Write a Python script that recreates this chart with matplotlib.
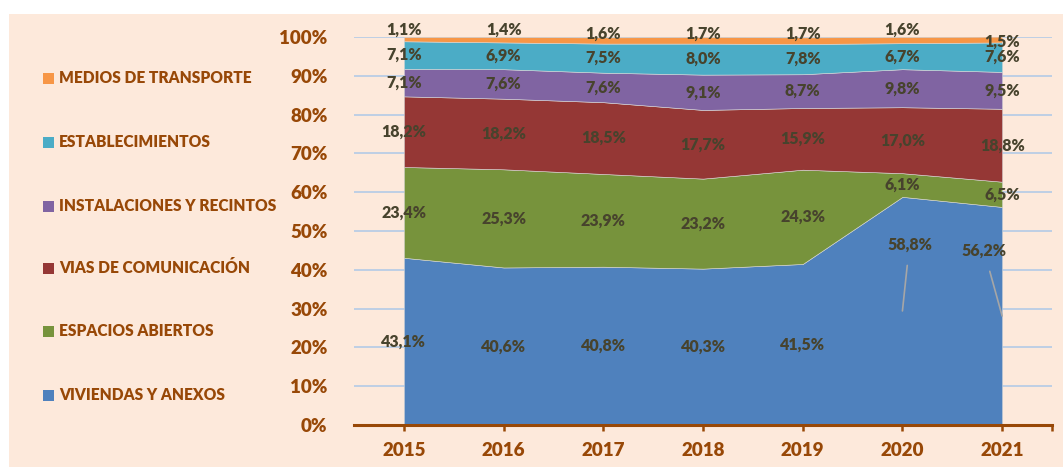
import matplotlib.pyplot as plt
import numpy as np
from matplotlib.patches import Rectangle

years = ["2015", "2016", "2017", "2018", "2019", "2020", "2021"]

viviendas = [43.1, 40.6, 40.8, 40.3, 41.5, 58.8, 56.2]
espacios = [23.4, 25.3, 23.9, 23.2, 24.3, 6.1, 6.5]
vias = [18.2, 18.2, 18.5, 17.7, 15.9, 17.0, 18.8]
instalaciones = [7.1, 7.6, 7.6, 9.1, 8.7, 9.8, 9.5]
establecimientos = [7.1, 6.9, 7.5, 8.0, 7.8, 6.7, 7.6]
medios = [1.1, 1.4, 1.6, 1.7, 1.7, 1.6, 1.5]

series_names = ["VIVIENDAS Y ANEXOS", "ESPACIOS ABIERTOS", "VIAS DE COMUNICACIÓN",
                "INSTALACIONES Y RECINTOS", "ESTABLECIMIENTOS", "MEDIOS DE TRANSPORTE"]
colors = ["#4F81BD", "#77933C", "#953735", "#8064A2", "#4BACC6", "#F79646"]

BROWN = "#984807"
LABEL = "#47432D"
BG = "#FDE9DB"
W = "heavy"

plt.rcParams['font.family'] = ['Lato', 'DejaVu Sans']
plt.rcParams['font.weight'] = 'bold'

fig = plt.figure(figsize=(10.63, 4.67), dpi=100)
fig.patch.set_facecolor("white")
fig.patches.append(Rectangle((9 / 1063, 0), 1, 1 - 14 / 467, transform=fig.transFigure,
                             facecolor=BG, edgecolor="none", zorder=-10))

ax = fig.add_axes([354 / 1063, 1 - 425 / 467, 698 / 1063, 388 / 467])
ax.set_facecolor("none")

data = np.array([viviendas, espacios, vias, instalaciones, establecimientos, medios])
x = np.arange(len(years)) + 0.5
ax.stackplot(x, data, colors=colors, edgecolor="#D9D9D9", linewidth=0.4, zorder=2)

ax.set_xlim(0, 7)
ax.set_ylim(0, 100)
ax.set_yticks(np.arange(0, 101, 10))
ax.set_yticklabels([f"{v}%" for v in range(0, 101, 10)])
ax.grid(axis="y", color="#B9CDE5", linewidth=1.3, zorder=1)
ax.set_axisbelow(True)

ax.set_xticks(x)
ax.set_xticklabels(years)
ax.set_xticks([7], minor=True)
for s in ["top", "right", "left"]:
    ax.spines[s].set_visible(False)
ax.spines["bottom"].set_color(BROWN)
ax.spines["bottom"].set_linewidth(2.2)
ax.spines["bottom"].set_zorder(3)
ax.tick_params(axis="x", which="both", colors=BROWN, length=4, width=1.8, direction="out",
               labelsize=13.5, pad=8)
ax.tick_params(axis="y", length=0, colors=BROWN, labelsize=13.5, pad=19)
for t in ax.get_xticklabels() + ax.get_yticklabels():
    t.set_fontweight(W)

# data labels
cum = np.cumsum(data, axis=0)
for s in range(data.shape[0]):
    for i in range(len(years)):
        v = data[s, i]
        mid = cum[s, i] - v / 2
        txt = f"{v:.1f}%".replace(".", ",")
        if s == 0 and i >= 5:
            lx = x[i] + (0.07 if i == 5 else -0.18)
            ly = 46.4 if i == 5 else 44.8
            ax.annotate(txt, xy=(x[i], mid), xytext=(lx, ly), ha="center", va="center",
                        fontsize=11.5, fontweight=W, color=LABEL, zorder=5,
                        arrowprops=dict(arrowstyle="-", color="#A6A6A6", lw=1.2,
                                        shrinkA=7, shrinkB=0))
            continue
        if s == 5:
            mid = 101.8 if i < 6 else 98.7
            if i in (2, 3, 4):
                mid = 100.8
        ax.text(x[i], mid, txt, ha="center", va="center", fontsize=11.5, fontweight=W,
                color=LABEL, zorder=5, clip_on=False)

# legend on the left
leg_y = [78, 142, 206, 268, 331, 395]
for name, col, py in zip(series_names[::-1], colors[::-1], leg_y):
    fy = 1 - py / 467
    fig.patches.append(Rectangle((43 / 1063, fy - 5.5 / 467), 11 / 1063, 11 / 467,
                                 transform=fig.transFigure, facecolor=col, edgecolor="none"))
    fig.text(59 / 1063, fy, name, ha="left", va="center", fontsize=11.2,
             fontweight=W, color=BROWN)

fig.savefig("out.png", dpi=100, facecolor=fig.get_facecolor())
